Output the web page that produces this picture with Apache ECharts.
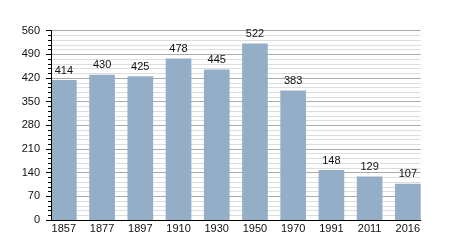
<!DOCTYPE html>
<html>
<head>
<meta charset="utf-8">
<script src="https://cdn.jsdelivr.net/npm/echarts@6/dist/echarts.min.js"></script>
<style>html,body{margin:0;padding:0;background:#fff;}#c{width:450px;height:250px;}</style>
</head>
<body>
<div id="c"></div>
<script>
var categories = ['1857','1877','1897','1910','1930','1950','1970','1991','2011','2016'];
var population = [414, 430, 425, 478, 445, 522, 383, 148, 129, 107];
var yTicks = [0, 70, 140, 210, 280, 350, 420, 490, 560];

var chart = echarts.init(document.getElementById('c'), null, {renderer: 'canvas'});
var font = 'Liberation Sans, Arial, sans-serif';
var yMin = yTicks[0], yMax = yTicks[yTicks.length-1];
chart.setOption({
  animation: false,
  backgroundColor: '#fff',
  grid: [
    {left: 51, right: 29.3, top: 30.7, bottom: 30},
    {left: 44.75, right: 23.05, top: 30.7, bottom: 30},
    {left: 51, right: 29.3, top: 30.7, bottom: 30}
  ],
  xAxis: [
    {gridIndex: 0, type: 'category', data: categories, z: 0,
     axisLine: {show: false}, axisTick: {show: false}, axisLabel: {show: false}, splitLine: {show: false}},
    {gridIndex: 1, type: 'category', data: categories,
     axisLine: {show: false}, axisTick: {show: false},
     axisLabel: {show: true, color: '#111', fontSize: 11, fontFamily: font, margin: 3}},
    {gridIndex: 2, type: 'category', data: categories, z: 5,
     axisLine: {show: true, lineStyle: {color: '#000', width: 1}},
     axisTick: {show: false}, axisLabel: {show: false}, splitLine: {show: false}}
  ],
  yAxis: [
    {gridIndex: 0, type: 'value', min: yMin, max: yMax, interval: 70, z: 0,
     axisLine: {show: false}, axisTick: {show: false}, axisLabel: {show: false},
     splitLine: {show: true, lineStyle: {color: '#aaaaaa', width: 1}},
     minorTick: {show: false, splitNumber: 5},
     minorSplitLine: {show: true, lineStyle: {color: '#dddddd', width: 1}}},
    {gridIndex: 1, type: 'value', min: yMin, max: yMax, interval: 70,
     show: false, splitLine: {show: false}},
    {gridIndex: 2, type: 'value', min: yMin, max: yMax, interval: 70, z: 5,
     axisLine: {show: true, lineStyle: {color: '#000', width: 1}},
     axisTick: {show: true, length: 5, lineStyle: {color: '#000'}},
     minorTick: {show: true, splitNumber: 5, length: 3, lineStyle: {color: '#000'}},
     axisLabel: {color: '#111', fontSize: 11, fontFamily: font, margin: 11},
     splitLine: {show: false}, minorSplitLine: {show: false}}
  ],
  series: [{
    type: 'bar', xAxisIndex: 1, yAxisIndex: 1, data: population, z: 2,
    barWidth: 25.7,
    itemStyle: {color: '#95aec8'},
    label: {show: true, position: 'top', distance: 4, color: '#111', fontSize: 11, fontFamily: font}
  }]
});
</script>
</body>
</html>
